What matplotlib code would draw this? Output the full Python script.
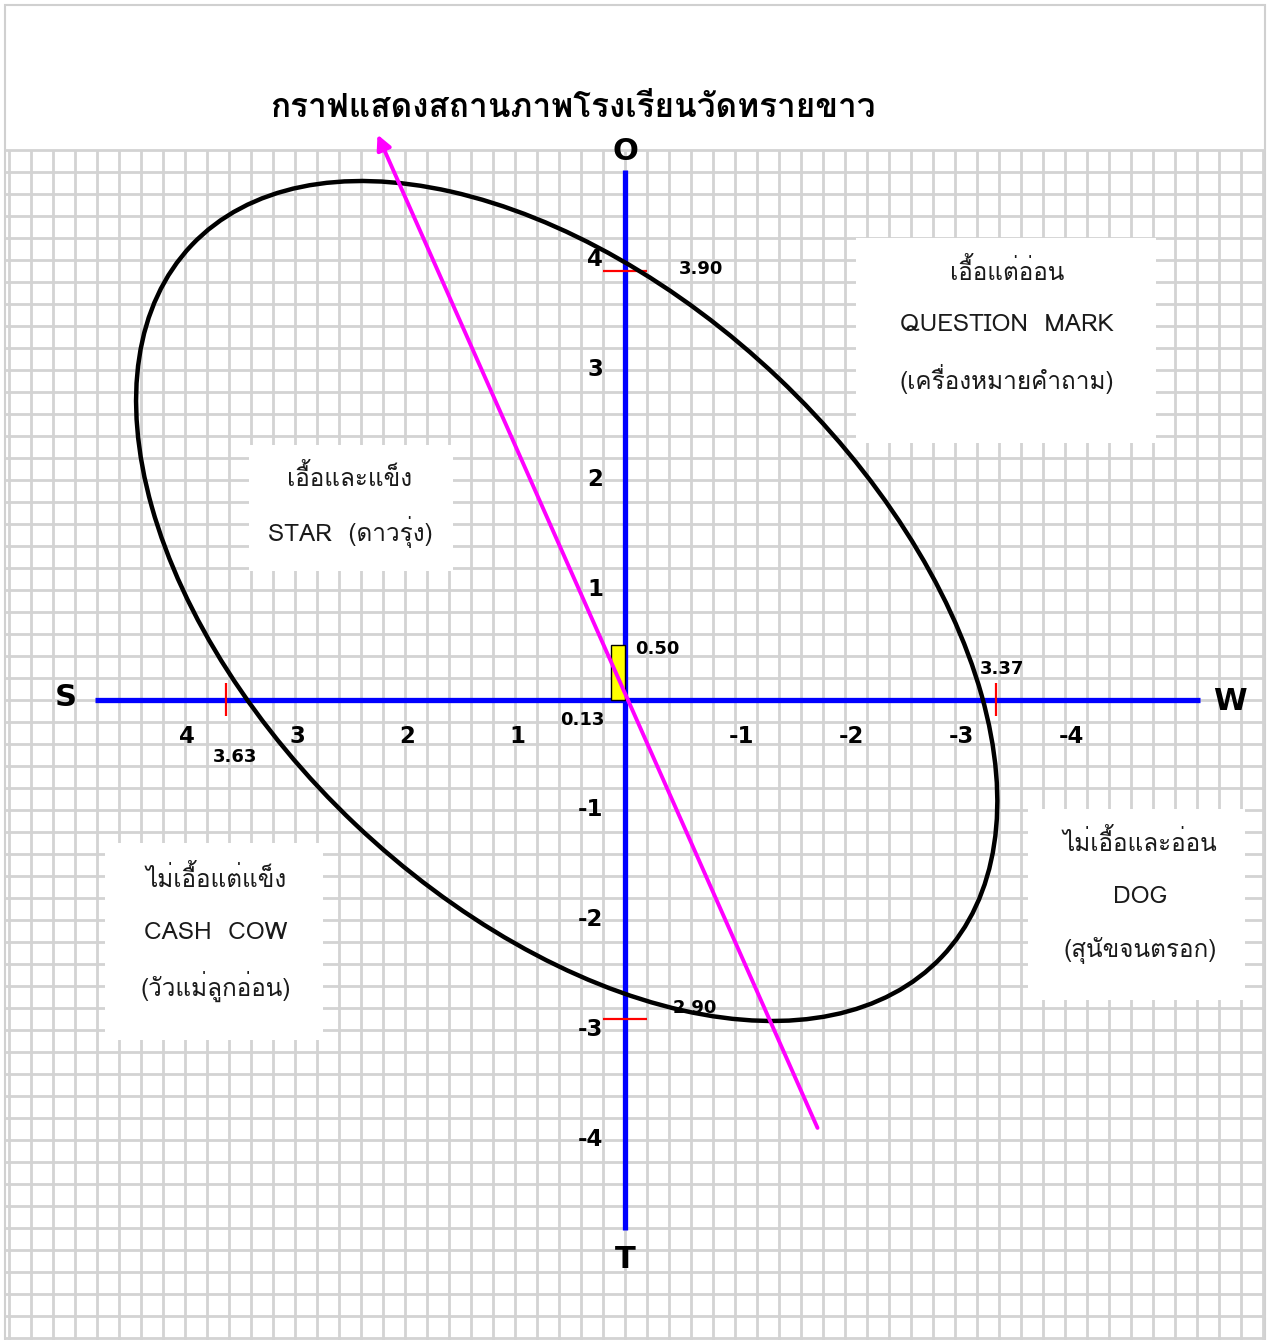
import numpy as np
import matplotlib
matplotlib.use('Agg')
import matplotlib.pyplot as plt
from matplotlib import font_manager
from matplotlib.ft2font import FT2Font
from matplotlib.patches import Ellipse, Rectangle

# ==================== Data ====================
title = 'กราฟแสดงสถานภาพโรงเรียนวัดทรายขาว'

x_tick_values = [4, 3, 2, 1, -1, -2, -3, -4]
y_tick_values = [4, 3, 2, 1, -1, -2, -3, -4]

# SWOT scores
score_O = 3.90
score_T = -2.90
score_S = 3.63
score_W = -3.37
net_SW = 0.13
net_OT = 0.50

# ellipse (centre, full width, full height, angle) in score units
ellipse_center = (0.53, 0.90)
ellipse_size = (9.40, 5.59)
ellipse_angle = 43.5

# strategy line (start -> arrow tip)
strategy_x = [-1.75, 2.25]
strategy_y = [-3.89, 5.14]

quadrant_texts = [
    ['เอื้อแต่อ่อน', 'QUESTION  MARK', '(เครื่องหมายคำถาม)'],
    ['เอื้อและแข็ง', 'STAR  (ดาวรุ่ง)'],
    ['ไม่เอื้อแต่แข็ง', 'CASH  COW', '(วัวแม่ลูกอ่อน)'],
    ['ไม่เอื้อและอ่อน', 'DOG', '(สุนัขจนตรอก)'],
]


# ==================== Font with Thai glyphs ====================
def find_thai_font():
    for f in font_manager.fontManager.ttflist:
        try:
            if 0x0E01 in FT2Font(f.fname).get_charmap():
                return f.name
        except Exception:
            pass
    return None


thai = find_thai_font()
families = [thai, 'DejaVu Sans'] if thai else ['DejaVu Sans']
plt.rcParams['font.family'] = families
num_font = dict(family='DejaVu Sans', fontweight='bold')

# ==================== Figure (1 unit = 110 px) ====================
fig = plt.figure(figsize=(12.71, 13.40), dpi=100)
ax = fig.add_axes([0, 0, 1, 1])
ax.set_xlim(625 / 110, -646 / 110)
ax.set_ylim(-640 / 110, 700 / 110)
ax.axis('off')

# outer border
ax.add_patch(Rectangle((-5.82, -6.0), 5.64 + 5.82, 6.32 + 6.0, fill=False,
                       edgecolor='#d0d0d0', linewidth=1.5, zorder=1))

# graph paper grid
gx = np.arange(-29, 29) * 0.2
gy = np.arange(-29, 26) * 0.2
ax.vlines(gx, -6.0, 5.0, color='#d3d3d3', linewidth=2.0, zorder=1)
ax.hlines(gy, -5.82, 5.64, color='#d3d3d3', linewidth=2.0, zorder=1)

# white boxes behind the quadrant texts
boxes = [(-4.83, 2.34, 2.73, 1.86), (1.56, 1.17, 1.86, 1.15),
         (2.75, -3.09, 1.98, 1.79), (-5.64, -2.73, 1.98, 1.74)]
for bx, by, bw, bh in boxes:
    ax.add_patch(Rectangle((bx, by), bw, bh, facecolor='white',
                           edgecolor='none', zorder=2))

text_anchor = [(-3.47, 3.90), (2.50, 2.02), (3.72, -1.62), (-4.68, -1.30)]
for lines, (tx, ty) in zip(quadrant_texts, text_anchor):
    for i, line in enumerate(lines):
        ax.text(tx, ty - i * 0.49, line, fontsize=17.5, ha='center', va='center',
                color='#1a1a1a', zorder=3)

# blue S-W and O-T axes
ax.plot([4.82, -5.23], [0, 0], color='blue', linewidth=3.8, zorder=3,
        solid_capstyle='butt')
ax.plot([0, 0], [4.82, -4.82], color='blue', linewidth=3.8, zorder=3,
        solid_capstyle='butt')

ax.text(5.08, 0.02, 'S', fontsize=22, ha='center', va='center', **num_font)
ax.text(-5.5, -0.01, 'W', fontsize=22, ha='center', va='center', **num_font)
ax.text(0, 4.99, 'O', fontsize=22, ha='center', va='center', **num_font)
ax.text(0, -5.09, 'T', fontsize=22, ha='center', va='center', **num_font)

for v in x_tick_values:
    dx = 6 if v < 0 else 2
    ax.annotate(f'{v}', (v, -0.33), xytext=(dx, 0), textcoords='offset pixels',
                fontsize=16.5, ha='center', va='center', zorder=4, **num_font)
for v in y_tick_values:
    ax.text(0.2, v, f'{v}', fontsize=16.5, ha='right', va='center', zorder=4,
            **num_font)

# yellow net position box
ax.add_patch(Rectangle((0, 0), net_SW, net_OT, facecolor='yellow',
                       edgecolor='black', linewidth=1.0, zorder=4))
ax.text(-0.09, net_OT - 0.04, f'{net_OT:.2f}', fontsize=13,
        ha='left', va='center', zorder=4, **num_font)
ax.text(0.39, -0.18, f'{net_SW:.2f}', fontsize=13,
        ha='center', va='center', zorder=4, **num_font)

# red score marks
ax.hlines([score_O, score_T], 0.2, -0.2, color='red', linewidth=1.6, zorder=4)
ax.vlines([score_S, score_W], -0.15, 0.15, color='red', linewidth=1.6, zorder=4)
ax.text(-0.49, score_O + 0.02, f'{score_O:.2f}', fontsize=13,
        ha='left', va='center', zorder=4, **num_font)
ax.text(-0.43, score_T + 0.1, f'{abs(score_T):.2f}', fontsize=13,
        ha='left', va='center', zorder=4, **num_font)
ax.text(3.55, -0.52, f'{score_S:.2f}', fontsize=13,
        ha='center', va='center', zorder=4, **num_font)
ax.text(-3.43, 0.28, f'{abs(score_W):.2f}', fontsize=13,
        ha='center', va='center', zorder=4, **num_font)

# ellipse
ax.add_patch(Ellipse(ellipse_center, ellipse_size[0], ellipse_size[1],
                     angle=ellipse_angle, fill=False, edgecolor='black',
                     linewidth=3.2, zorder=5))

# magenta strategy arrow
ax.annotate('', xy=(strategy_x[1], strategy_y[1]),
            xytext=(strategy_x[0], strategy_y[0]),
            arrowprops=dict(arrowstyle='-|>', color='magenta', lw=2.8,
                            mutation_scale=22, shrinkA=0, shrinkB=0),
            zorder=6, annotation_clip=False)

# title
ax.text(0.47, 5.38, title, fontsize=24, fontweight='bold', ha='center',
        va='center', zorder=7)

fig.savefig('out.png', dpi=100)
